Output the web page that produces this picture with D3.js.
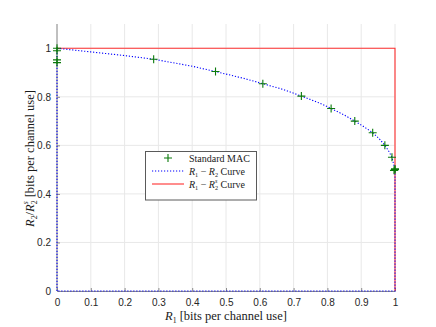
<!DOCTYPE html>
<html>
<head>
<meta charset="utf-8">
<script src="https://cdn.jsdelivr.net/npm/d3@7"></script>
<style>
  body { margin: 0; background: #fff; }
  svg { display: block; }
</style>
</head>
<body>
<div id="chart"></div>
<script>
// R1 vs R2/R2^s — Standard MAC points, R1-R2 curve and R1-R2^s curve

const xTicks = [0, 0.1, 0.2, 0.3, 0.4, 0.5, 0.6, 0.7, 0.8, 0.9, 1];
const yTicks = [0, 0.2, 0.4, 0.6, 0.8, 1];

// Standard MAC (green +)
const macR1 = [0, 0, 0, 0, 0.286, 0.469, 0.609, 0.723, 0.811, 0.881, 0.934, 0.970, 0.991, 1, 0.997, 1];
const macR2 = [1, 0.99, 0.952, 0.941, 0.955, 0.904, 0.854, 0.803, 0.752, 0.70, 0.652, 0.60, 0.551, 0.50, 0.497, 0.503];

// R1 - R2 curve (blue dotted), closed region
const curveR1 = [0, 0, 0.1, 0.2, 0.286, 0.4, 0.469, 0.55, 0.609, 0.67, 0.723, 0.77, 0.811, 0.85, 0.881, 0.91, 0.934, 0.955, 0.970, 0.982, 0.991, 1, 1, 0];
const curveR2 = [0, 1, 0.985, 0.97, 0.955, 0.926, 0.904, 0.877, 0.854, 0.83, 0.803, 0.778, 0.752, 0.725, 0.70, 0.675, 0.652, 0.625, 0.60, 0.575, 0.551, 0.50, 0, 0];

// R1 - R2^s curve (red)
const boundR1 = [0, 1, 1];
const boundR2 = [1, 1, 0];

const W = 436, H = 327, M = { top: 24, right: 41, bottom: 36, left: 57 };
const svg = d3.select("#chart").append("svg").attr("width", W).attr("height", H);

const x = d3.scaleLinear().domain([0, 1]).range([M.left, W - M.right]);
const y = d3.scaleLinear().domain([0, 1.1]).range([H - M.bottom, M.top]);

const SANS = "'Liberation Sans', Arial, sans-serif";
const SERIF = "'Liberation Serif', 'Times New Roman', serif";

// Gitter
const grid = svg.append("g").attr("stroke", "#e8e8e8").attr("stroke-width", 1);
xTicks.forEach(t => grid.append("line")
  .attr("x1", x(t)).attr("x2", x(t)).attr("y1", y(0)).attr("y2", M.top));
yTicks.forEach(t => grid.append("line")
  .attr("x1", x(0)).attr("x2", x(1)).attr("y1", y(t)).attr("y2", y(t)));

// Achsen
const gx = svg.append("g").attr("transform", `translate(0,${y(0)})`)
  .call(d3.axisBottom(x).tickValues(xTicks).tickSizeInner(-3).tickSizeOuter(0)
    .tickPadding(8).tickFormat(d3.format("")));
const gy = svg.append("g").attr("transform", `translate(${x(0)},0)`)
  .call(d3.axisLeft(y).tickValues(yTicks).tickSizeInner(-3).tickSizeOuter(0)
    .tickPadding(6).tickFormat(d3.format("")));
gy.select(".domain").attr("d", `M0,${y(0)}V${M.top}`);
[gx, gy].forEach(g => {
  g.select(".domain").attr("stroke", "#8c8c8c");
  g.selectAll(".tick line").attr("stroke", "#8c8c8c");
  g.selectAll(".tick text").attr("fill", "#262626")
    .style("font-family", SANS).style("font-size", "10px");
});

// Kurven
const line = d3.line().x(d => x(d[0])).y(d => y(d[1]));
const boundPts = boundR1.map((v, i) => [v, boundR2[i]]);
const curvePts = curveR1.map((v, i) => [v, curveR2[i]]);

svg.append("path").datum(boundPts).attr("d", line)
  .attr("fill", "none").attr("stroke", "#ff3030").attr("stroke-width", 1.1);
svg.append("path").datum(curvePts).attr("d", line)
  .attr("fill", "none").attr("stroke", "#0000ff").attr("stroke-width", 1.1)
  .attr("stroke-dasharray", "1.2,1.8");

// Marker
const plus = (g, cx, cy, s) => {
  g.append("path").attr("d", `M${cx - s},${cy}H${cx + s}M${cx},${cy - s}V${cy + s}`)
    .attr("stroke", "#0a7a0a").attr("stroke-width", 1.1).attr("fill", "none");
};
const gm = svg.append("g");
macR1.forEach((v, i) => plus(gm, x(v), y(macR2[i]), 4));

// Legende
const lg = svg.append("g");
lg.append("rect").attr("x", 145.5).attr("y", 151.5).attr("width", 111).attr("height", 48.5)
  .attr("fill", "#fff").attr("stroke", "#5a5a5a").attr("stroke-width", 1);
const rowsY = [158, 171, 184];
plus(lg, 168, rowsY[0], 4);
lg.append("line").attr("x1", 152).attr("x2", 184).attr("y1", rowsY[1]).attr("y2", rowsY[1])
  .attr("stroke", "#0000ff").attr("stroke-width", 1.1).attr("stroke-dasharray", "1.2,1.8");
lg.append("line").attr("x1", 152).attr("x2", 184).attr("y1", rowsY[2]).attr("y2", rowsY[2])
  .attr("stroke", "#ff3030").attr("stroke-width", 1.1);

// Text mit Index / Exponent (stack = R_2^s gestapelt)
const mathText = (g, parts, attrs, fs) => {
  const small = fs * 0.62;
  const t = g.append("text").style("font-family", SERIF).style("font-size", fs + "px").attr("fill", "#1a1a1a");
  Object.entries(attrs).forEach(([k, v]) => t.attr(k, v));
  let shift = 0;
  const move = to => { const d = to - shift; shift = to; return d; };
  parts.forEach(p => {
    if (p.stack) {
      t.append("tspan").text(p.sup).style("font-style", "italic").style("font-size", small + "px")
        .attr("dy", move(-fs * 0.46));
      t.append("tspan").text(p.sub).style("font-size", small + "px")
        .attr("dx", -small * 0.4).attr("dy", move(fs * 0.26));
      return;
    }
    const ts = t.append("tspan").text(p.t);
    if (p.i) ts.style("font-style", "italic");
    if (p.sub) ts.style("font-size", small + "px").attr("dy", move(fs * 0.22));
    else ts.attr("dy", move(0));
  });
  return t;
};

mathText(lg, [{ t: "Standard MAC" }], { x: 189, y: rowsY[0] + 3.5 }, 10);
mathText(lg, [{ t: "R", i: 1 }, { t: "1", sub: 1 }, { t: " − " }, { t: "R", i: 1 }, { t: "2", sub: 1 }, { t: " Curve" }],
  { x: 189, y: rowsY[1] + 3.5 }, 10);
mathText(lg, [{ t: "R", i: 1 }, { t: "1", sub: 1 }, { t: " − " }, { t: "R", i: 1 }, { stack: 1, sup: "s", sub: "2" },
  { t: " Curve" }],
  { x: 189, y: rowsY[2] + 3.5 }, 10);

// Achsentitel
mathText(svg, [{ t: "R", i: 1 }, { t: "1", sub: 1 }, { t: " [bits per channel use]" }],
  { x: (x(0) + x(1)) / 2, y: 320, "text-anchor": "middle" }, 12.5);
mathText(svg, [{ t: "R", i: 1 }, { t: "2", sub: 1 }, { t: "/" }, { t: "R", i: 1 }, { stack: 1, sup: "s", sub: "2" },
  { t: " [bits per channel use]" }],
  { transform: `translate(34,${(y(0) + y(1.1)) / 2 + 1}) rotate(-90)`, "text-anchor": "middle" }, 12.5);
</script>
</body>
</html>
